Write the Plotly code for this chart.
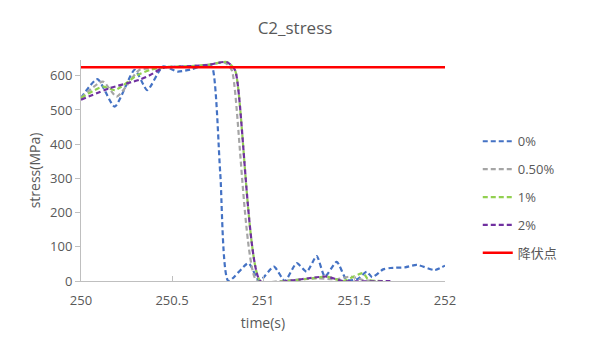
import plotly.graph_objects as go

# ---- data ----
x_0 = [250.0, 250.09, 250.185, 250.295, 250.364, 250.45, 250.53, 250.6, 250.69, 250.72, 250.765, 250.81,
       250.92, 250.98, 251.06, 251.12, 251.185, 251.24, 251.295, 251.34, 251.405, 251.46, 251.52, 251.57,
       251.6, 251.66, 251.70, 251.78, 251.845, 251.945, 252.0]
y_0 = [535, 590, 510, 617, 558, 627, 612, 618, 632, 626, 316, 0,
       52, 0, 42, 0, 52, 27, 73, 13, 56, 3, 6, 27,
       11, 34, 38, 40, 47, 32, 45]

x_05 = [250.0, 250.12, 250.196, 250.32, 250.4, 250.5, 250.6, 250.7, 250.79, 250.828, 250.965,
        251.1, 251.3, 251.4, 251.48, 251.55, 251.62]
y_05 = [535, 583, 539, 617, 622, 625, 628, 632, 638, 617, 0,
        0, 8, 5, 13, 3, 0]

x_1 = [250.0, 250.12, 250.187, 250.31, 250.38, 250.45, 250.6, 250.7, 250.8, 250.846, 250.985,
       251.13, 251.3, 251.35, 251.44, 251.55, 251.58, 251.67]
y_1 = [535, 568, 558, 602, 617, 625, 628, 632, 640, 617, 0,
       0, 10, 13, 0, 23, 3, 0]

x_2 = [250.0, 250.16, 250.32, 250.38, 250.45, 250.6, 250.7, 250.8, 250.846, 250.985,
       251.13, 251.295, 251.35, 251.44, 251.7]
y_2 = [530, 564, 588, 602, 623, 628, 632, 640, 617, 0,
       0, 11, 13, 0, 0]

x_yield = [250.0, 252.0]
y_yield = [625, 625]

names = ["0%", "0.50%", "1%", "2%", "降伏点"]
colors = ["#4472C4", "#A5A5A5", "#92D050", "#7030A0", "#FF0000"]

fig = go.Figure()
series = [(x_0, y_0), (x_05, y_05), (x_1, y_1), (x_2, y_2)]
for i, (xs, ys) in enumerate(series):
    fig.add_trace(go.Scatter(
        x=xs, y=ys, mode="lines", name=names[i], legendgroup=names[i],
        line=dict(color=colors[i], width=2.2, dash="5px,3px", shape="spline", smoothing=0.6),
    ))
fig.add_trace(go.Scatter(
    x=x_yield, y=y_yield, mode="lines", name=names[4], legendgroup=names[4],
    line=dict(color=colors[4], width=2.5),
))

font_fam = "Open Sans, Noto Sans CJK SC, sans-serif"
fig.update_layout(
    width=590, height=354,
    margin=dict(l=81, r=145, t=60, b=73),
    paper_bgcolor="white", plot_bgcolor="white",
    font=dict(family=font_fam, color="#595959", size=13),
    title=dict(text="C2_stress", x=0.5, xanchor="center", y=0.92, yanchor="middle",
               font=dict(size=17, color="#595959")),
    legend=dict(x=1.09, xanchor="left", y=0.70, yanchor="top", tracegroupgap=8,
                font=dict(size=13, color="#595959"), bgcolor="rgba(0,0,0,0)"),
    xaxis=dict(range=[250, 252], tickvals=[250, 250.5, 251, 251.5, 252],
               ticktext=["250", "250.5", "251", "251.5", "252"],
               showgrid=False, zeroline=False, showline=True, linecolor="#BFBFBF", linewidth=1,
               ticks="inside", ticklen=5, tickcolor="#BFBFBF", ticklabelstandoff=7,
               title=dict(text="time(s)", standoff=10, font=dict(size=14, color="#595959"))),
    yaxis=dict(range=[0, 646], tickvals=[0, 100, 200, 300, 400, 500, 600],
               showgrid=False, zeroline=False, showline=True, linecolor="#BFBFBF", linewidth=1,
               ticks="outside", ticklen=5, tickcolor="#BFBFBF",
               title=dict(text="stress(MPa)", standoff=6, font=dict(size=14, color="#595959"))),
)

fig.write_html("out.html")
